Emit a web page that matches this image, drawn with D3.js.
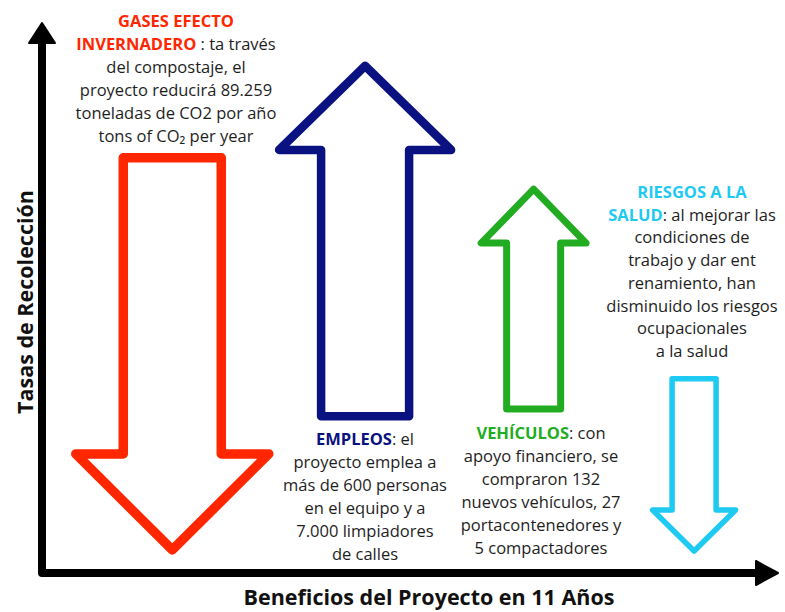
<!DOCTYPE html>
<html>
<head>
<meta charset="utf-8">
<script src="https://cdn.jsdelivr.net/npm/d3@7"></script>
<style>
  body { margin: 0; background: #fff; }
  text { font-family: "Open Sans", sans-serif; fill: #1e1e1e; }
  .head { font-weight: 700; }
  .axislabel { font-weight: 700; font-size: 21.5px; fill: #111; }
</style>
</head>
<body>
<div id="chart"></div>
<script>
// benefits, one arrow each
var categories = ["GASES EFECTO INVERNADERO", "EMPLEOS", "VEHÍCULOS", "RIESGOS A LA SALUD"];
var positions = [17.7, 43.9, 66.8, 88.6];          // place along the x axis (0-100)
var arrowFrom = [75.5, 28.5, 29.8, 35.3];           // tail end of arrow (0-100)
var arrowTo   = [4.2, 92.2, 69.8, 4.0];             // tip of arrow (0-100)
var colors = ["#ff2600", "#0a1180", "#22ac22", "#1ec9f2"];

// text of each note, line by line; [text, isHeading]
var notes = [
  [[["GASES EFECTO", 1]],
   [["INVERNADERO", 1], [" : ta través", 0]],
   [["del compostaje, el", 0]],
   [["proyecto reducirá 89.259", 0]],
   [["toneladas de CO2 por año", 0]],
   [["tons of CO₂ per year", 0]]],
  [[["EMPLEOS", 1], [": el", 0]],
   [["proyecto emplea a", 0]],
   [["más de 600 personas", 0]],
   [["en el equipo y a", 0]],
   [["7.000 limpiadores", 0]],
   [["de calles", 0]]],
  [[["VEHÍCULOS", 1], [": con", 0]],
   [["apoyo financiero, se", 0]],
   [["compraron 132", 0]],
   [["nuevos vehículos, 27", 0]],
   [["portacontenedores y", 0]],
   [["5 compactadores", 0]]],
  [[["RIESGOS A LA", 1]],
   [["SALUD", 1], [": al mejorar las", 0]],
   [["condiciones de", 0]],
   [["trabajo y dar ent", 0]],
   [["renamiento, han", 0]],
   [["disminuido los riesgos", 0]],
   [["ocupacionales", 0]],
   [["a la salud", 0]]]
];

var xTitle = "Beneficios del Proyecto en 11 Años";
var yTitle = "Tasas de Recolección";

var width = 785, height = 612;
var svg = d3.select("#chart").append("svg")
  .attr("width", width).attr("height", height);

var x = d3.scaleLinear().domain([0, 100]).range([42, 778]);
var y = d3.scaleLinear().domain([0, 100]).range([573, 23]);

// arrow look
var shaftW = [98, 88, 54, 44];
var headW = [193, 172, 105, 83];
var headH = [96, 84, 54, 41];
var strokeW = [9.5, 8.5, 7, 5.5];
var noteX = [176, 365, 541, 692];
var noteY = [27, 445, 439, 198];
var lineH = [22.9, 23, 23, 22.7];

function arrowPath(i) {
  var cx = x(positions[i]);
  var y0 = y(arrowFrom[i]), y1 = y(arrowTo[i]);
  var dir = y1 > y0 ? 1 : -1;
  var yb = y1 - dir * headH[i];
  var s = shaftW[i] / 2, h = headW[i] / 2;
  return "M" + (cx - s) + "," + y0 +
    "L" + (cx + s) + "," + y0 +
    "L" + (cx + s) + "," + yb +
    "L" + (cx + h) + "," + yb +
    "L" + cx + "," + y1 +
    "L" + (cx - h) + "," + yb +
    "L" + (cx - s) + "," + yb + "Z";
}

svg.selectAll("path.arrow")
  .data(categories)
  .enter().append("path")
  .attr("class", "arrow")
  .attr("d", function (d, i) { return arrowPath(i); })
  .attr("fill", "#fff")
  .attr("stroke", function (d, i) { return colors[i]; })
  .attr("stroke-width", function (d, i) { return strokeW[i]; })
  .attr("stroke-linejoin", "round");

// notes
notes.forEach(function (lines, i) {
  var g = svg.append("g");
  lines.forEach(function (segs, j) {
    var t = g.append("text")
      .attr("x", noteX[i])
      .attr("y", noteY[i] + j * lineH[i])
      .attr("text-anchor", "middle")
      .style("font-size", "16.5px");
    segs.forEach(function (s) {
      var ts = t.append("tspan").text(s[0]);
      if (s[1]) ts.attr("class", "head").style("fill", colors[i]);
    });
  });
});

// axes
var axis = svg.append("g");
axis.append("path")
  .attr("d", "M" + x(0) + "," + (y(100) + 15) + "L" + x(0) + "," + y(0) + "L" + (x(100) - 15) + "," + y(0))
  .attr("fill", "none").attr("stroke", "#000").attr("stroke-width", 8)
  .attr("stroke-linejoin", "round");
axis.append("path")
  .attr("d", "M" + x(0) + "," + y(100) + "L" + (x(0) + 13) + "," + (y(100) + 20) +
    "L" + (x(0) - 13) + "," + (y(100) + 20) + "Z")
  .attr("fill", "#000").attr("stroke", "#000").attr("stroke-width", 2).attr("stroke-linejoin", "round");
axis.append("path")
  .attr("d", "M" + x(100) + "," + y(0) + "L" + (x(100) - 22) + "," + (y(0) - 12) +
    "L" + (x(100) - 22) + "," + (y(0) + 12) + "Z")
  .attr("fill", "#000").attr("stroke", "#000").attr("stroke-width", 2).attr("stroke-linejoin", "round");

svg.append("text")
  .attr("class", "axislabel")
  .attr("x", 429).attr("y", 605)
  .attr("text-anchor", "middle")
  .text(xTitle);

svg.append("text")
  .attr("class", "axislabel")
  .attr("transform", "translate(33,302) rotate(-90)")
  .attr("text-anchor", "middle")
  .text(yTitle);
</script>
</body>
</html>
